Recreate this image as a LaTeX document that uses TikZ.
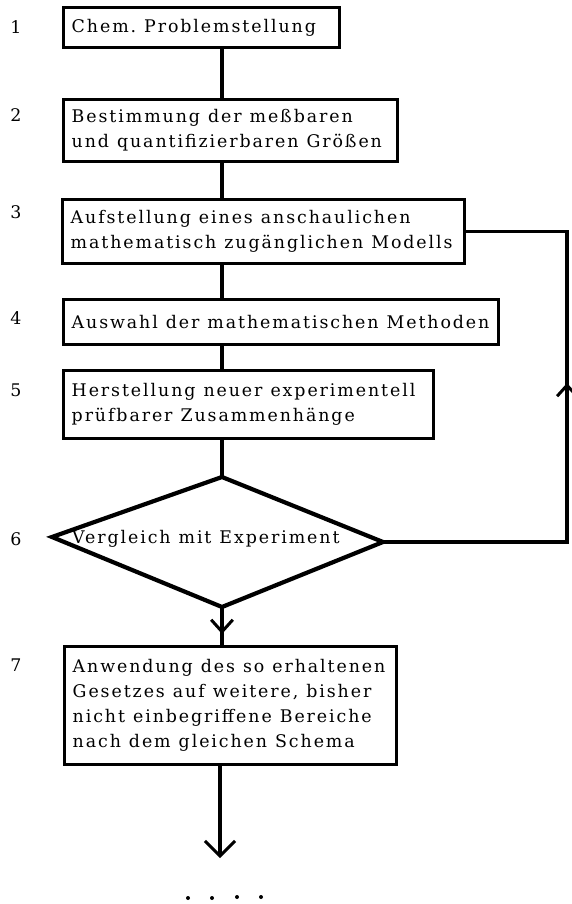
\documentclass[tikz,border=0pt]{standalone}
\usepackage{fontspec}
\setmainfont[LetterSpace=11]{DejaVu Serif}
\usetikzlibrary{arrows.meta,decorations.markings}

\begin{document}
\begin{tikzpicture}[x=1pt,y=-1pt,
  txt/.style={font=\fontsize{17.4}{25}\selectfont,
    execute at begin node={\spaceskip=8pt plus 1pt minus 1pt\relax}},
  stepbox/.style={txt, draw, line width=3.4pt, anchor=north west,
    inner xsep=8pt, inner ysep=0pt, align=left},
  num/.style={txt, inner sep=0pt},
  conn/.style={line width=3.4pt},
  midarrow/.style 2 args={postaction={decorate}, decoration={markings,
    mark=at position #1 with {\arrow{Straight Barb[length=#2, width=1.8*#2, line width=3pt]}}}}
]
\useasboundingbox (0,0) rectangle (571,904);

% process steps
\node[stepbox, minimum width=276pt, minimum height=40pt, text width=260pt] (b1) at (62,6)
  {Chem.\ Problemstellung};
\node[stepbox, minimum width=334pt, minimum height=62pt, text width=318pt] (b2) at (62,98)
  {Bestimmung der meßbaren\\und quantifizierbaren Größen};
\node[stepbox, minimum width=402pt, minimum height=64pt, text width=386pt] (b3) at (61,198)
  {Aufstellung eines anschaulichen\\mathematisch zugänglichen Modells};
\node[stepbox, minimum width=435pt, minimum height=45pt, text width=419pt] (b4) at (62,298)
  {Auswahl der mathematischen Methoden};
\node[stepbox, minimum width=370pt, minimum height=68pt, text width=354pt] (b5) at (62,369)
  {Herstellung neuer experimentell\\prüfbarer Zusammenhänge};
\node[stepbox, minimum width=332pt, minimum height=118pt, text width=316pt] (b7) at (63,645)
  {Anwendung des so erhaltenen\\Gesetzes auf weitere, bisher\\nicht einbegriffene Bereiche\\nach dem gleichen Schema};

% decision
\coordinate (dT) at (222,477);
\coordinate (dR) at (383,542);
\coordinate (dB) at (222,607);
\coordinate (dL) at (52,537);
\draw[line width=4.2pt, line join=miter] (dT) -- (dR) -- (dB) -- (dL) -- cycle;
\node[txt, inner sep=0pt, anchor=west] (d6) at (72,539) {Vergleich mit Experiment};

% step numbers
\node[num] (n1) at (16,27) {1};
\node[num] (n2) at (16,115) {2};
\node[num] (n3) at (16,212) {3};
\node[num] (n4) at (16,318) {4};
\node[num] (n5) at (16,390) {5};
\node[num] (n6) at (16,539) {6};
\node[num] (n7) at (16,665) {7};

% main flow
\draw[conn] (b1.south -| dT) -- (b2.north -| dT);
\draw[conn] (b2.south -| dT) -- (b3.north -| dT);
\draw[conn] (b3.south -| dT) -- (b4.north -| dT);
\draw[conn] (b4.south -| dT) -- (b5.north -| dT);
\draw[conn] (b5.south -| dT) -- (dT);
\draw[conn, midarrow={27pt}{12pt}] (dB) -- (b7.north -| dB);

% feedback loop back to the model
\coordinate (fb) at (567,542);
\draw[conn, midarrow={343pt}{11pt}] (dR) -- (fb) |- (b3.east);

% continuation
\coordinate (endp) at (220,858);
\draw[conn, -{Straight Barb[length=15pt, width=30pt, line width=3pt]}] (b7.south -| endp) -- (endp);
\foreach \i/\x/\y in {1/188/898, 2/212/898, 3/237/897, 4/261/897}
  \fill (\x,\y) circle (2pt) coordinate (dot\i);
\end{tikzpicture}
\end{document}
